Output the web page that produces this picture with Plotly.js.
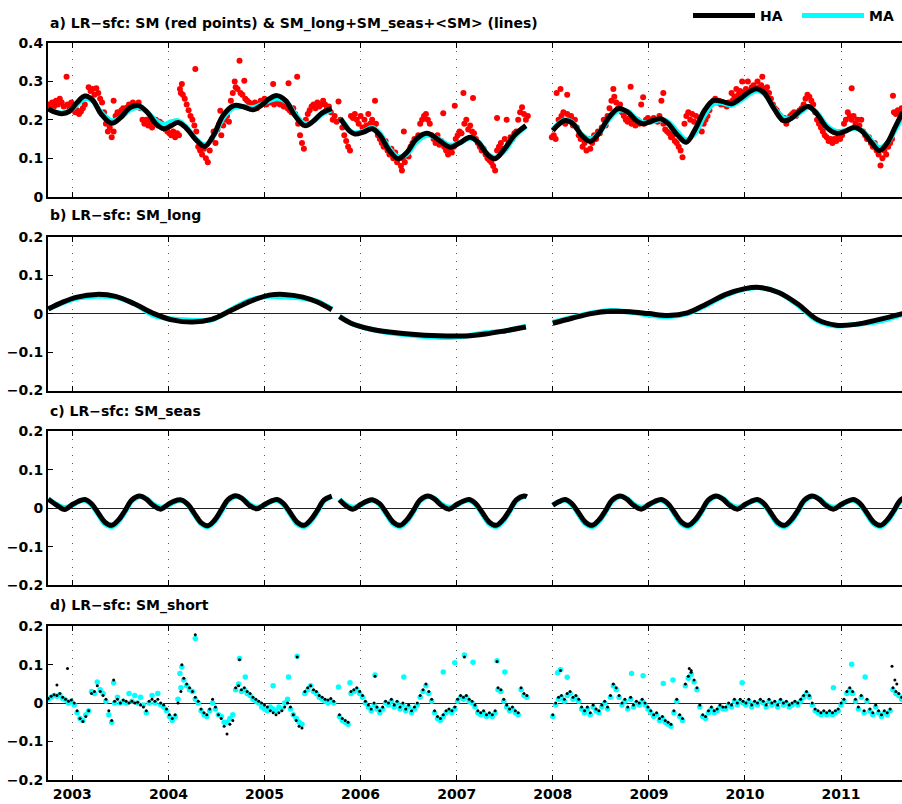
<!DOCTYPE html>
<html><head><meta charset="utf-8">
<script src="https://cdn.plot.ly/plotly-3.0.1.min.js"></script>
<style>html,body{margin:0;padding:0;overflow:hidden;background:#fff}#chart{width:910px;height:804px}</style>
</head><body><div id="chart"></div><script>
// ---------- tick labels ----------
const yearTicks = [2003,2004,2005,2006,2007,2008,2009,2010,2011];
const yearLabels = ['2003','2004','2005','2006','2007','2008','2009','2010','2011'];
const aTicks = [0,0.1,0.2,0.3,0.4];
const aLabels = ['0','0.1','0.2','0.3','0.4'];
const anomTicks = [-0.2,-0.1,0,0.1,0.2];
const anomLabels = ['\u22120.2','\u22120.1','0','0.1','0.2'];
const panelTitles = [
  'a) LR\u2212sfc: SM (red points) &amp; SM_long+SM_seas+&lt;SM&gt; (lines)',
  'b) LR\u2212sfc: SM_long',
  'c) LR\u2212sfc: SM_seas',
  'd) LR\u2212sfc: SM_short'
];
const seriesNames = ['HA','MA'];

// ---------- panel a: SM red points ----------
const redYears = [
2002.73,2002.75,2002.77,2002.79,2002.81,2002.83,2002.85,2002.87,2002.89,2002.91,
2002.94,2002.95,2002.97,2002.99,2003.01,2003.03,2003.05,2003.07,2003.09,2003.11,
2003.13,2003.15,2003.17,2003.19,2003.21,2003.23,2003.25,2003.27,2003.29,2003.31,
2003.33,2003.35,2003.37,2003.39,2003.41,2003.43,2003.43,2003.45,2003.47,2003.49,
2003.51,2003.53,2003.55,2003.57,2003.59,2003.61,2003.63,2003.65,2003.67,2003.69,
2003.71,2003.73,2003.75,2003.77,2003.79,2003.81,2003.83,2003.85,2003.87,2003.89,
2003.91,2003.93,2003.95,2003.97,2003.99,2004.01,2004.03,2004.05,2004.07,2004.09,
2004.11,2004.12,2004.13,2004.14,2004.15,2004.17,2004.19,2004.21,2004.23,2004.25,
2004.27,2004.28,2004.29,2004.31,2004.33,2004.35,2004.37,2004.39,2004.41,2004.43,
2004.45,2004.47,2004.49,2004.51,2004.53,2004.54,2004.55,2004.57,2004.59,2004.61,
2004.63,2004.65,2004.67,2004.69,2004.70,2004.72,2004.74,2004.75,2004.77,2004.79,
2004.80,2004.82,2004.84,2004.86,2004.88,2004.90,2004.92,2004.94,2004.96,2004.98,
2005.00,2005.02,2005.04,2005.06,2005.08,2005.09,2005.10,2005.12,2005.14,2005.16,
2005.18,2005.20,2005.22,2005.24,2005.25,2005.26,2005.28,2005.30,2005.32,2005.34,
2005.35,2005.37,2005.39,2005.41,2005.43,2005.45,2005.47,2005.49,2005.51,2005.53,
2005.55,2005.57,2005.59,2005.61,2005.63,2005.65,2005.67,2005.69,2005.71,2005.73,
2005.75,2005.77,2005.79,2005.81,2005.83,2005.85,2005.87,2005.89,2005.90,2005.92,
2005.94,2005.96,2005.98,2006.00,2006.02,2006.04,2006.06,2006.08,2006.10,2006.12,
2006.14,2006.15,2006.16,2006.18,2006.20,2006.22,2006.24,2006.26,2006.28,2006.30,
2006.32,2006.34,2006.36,2006.38,2006.40,2006.42,2006.43,2006.44,2006.45,2006.46,
2006.48,2006.50,2006.52,2006.54,2006.56,2006.58,2006.60,2006.62,2006.64,2006.66,
2006.68,2006.70,2006.72,2006.74,2006.76,2006.78,2006.80,2006.82,2006.84,2006.86,
2006.87,2006.89,2006.91,2006.93,2006.95,2006.97,2006.98,2006.99,2007.01,2007.03,
2007.05,2007.07,2007.08,2007.10,2007.12,2007.14,2007.16,2007.17,2007.18,2007.20,
2007.22,2007.24,2007.26,2007.28,2007.30,2007.32,2007.34,2007.36,2007.38,2007.40,
2007.42,2007.42,2007.44,2007.46,2007.48,2007.50,2007.52,2007.54,2007.56,2007.58,
2007.60,2007.62,2007.64,2007.66,2007.68,2007.70,2007.72,2007.74,2007.99,2008.01,
2008.03,2008.04,2008.06,2008.08,2008.09,2008.11,2008.13,2008.15,2008.15,2008.17,
2008.19,2008.21,2008.23,2008.25,2008.27,2008.29,2008.31,2008.33,2008.35,2008.37,
2008.39,2008.41,2008.43,2008.45,2008.47,2008.49,2008.51,2008.53,2008.55,2008.57,
2008.59,2008.61,2008.63,2008.64,2008.66,2008.68,2008.70,2008.72,2008.74,2008.76,
2008.78,2008.80,2008.81,2008.82,2008.84,2008.86,2008.88,2008.90,2008.92,2008.94,
2008.95,2008.97,2008.99,2009.01,2009.03,2009.05,2009.07,2009.09,2009.11,2009.13,
2009.15,2009.15,2009.17,2009.19,2009.21,2009.23,2009.25,2009.27,2009.29,2009.31,
2009.33,2009.35,2009.37,2009.39,2009.41,2009.43,2009.45,2009.47,2009.49,2009.51,
2009.53,2009.55,2009.57,2009.59,2009.61,2009.63,2009.65,2009.67,2009.69,2009.71,
2009.73,2009.75,2009.77,2009.79,2009.81,2009.83,2009.85,2009.86,2009.87,2009.89,
2009.91,2009.93,2009.95,2009.97,2009.99,2010.01,2010.03,2010.05,2010.07,2010.09,
2010.11,2010.13,2010.15,2010.17,2010.18,2010.19,2010.21,2010.23,2010.25,2010.27,
2010.29,2010.31,2010.33,2010.35,2010.37,2010.39,2010.41,2010.43,2010.45,2010.47,
2010.49,2010.51,2010.53,2010.55,2010.57,2010.59,2010.61,2010.63,2010.65,2010.67,
2010.69,2010.71,2010.73,2010.75,2010.77,2010.79,2010.81,2010.83,2010.85,2010.87,
2010.89,2010.91,2010.93,2010.95,2010.97,2010.99,2011.01,2011.03,2011.05,2011.07,
2011.09,2011.11,2011.11,2011.13,2011.15,2011.17,2011.19,2011.21,2011.23,2011.25,
2011.27,2011.29,2011.31,2011.33,2011.35,2011.37,2011.39,2011.41,2011.43,2011.45,
2011.47,2011.49,2011.51,2011.53,2011.54,2011.55,2011.57,2011.59,2011.61,2011.63
];
const redSM = [
.235,.24,.228,.245,.235,.25,.24,.255,.245,.235,
.312,.24,.23,.245,.235,.22,.225,.215,.222,.23,
.24,.26,.285,.275,.28,.265,.282,.27,.255,.245,
.22,.19,.17,.18,.155,.25,.17,.21,.22,.215,
.225,.23,.22,.232,.24,.235,.245,.24,.238,.245,
.23,.2,.19,.2,.185,.195,.18,.19,.2,.185,
.195,.19,.18,.175,.17,.165,.16,.17,.155,.165,
.16,.28,.27,.293,.265,.255,.24,.225,.21,.2,
.185,.332,.17,.13,.12,.11,.125,.1,.09,.12,
.15,.17,.14,.175,.19,.224,.16,.185,.2,.21,
.195,.25,.27,.3,.285,.28,.354,.27,.265,.302,
.255,.25,.245,.24,.235,.245,.23,.24,.25,.245,
.255,.24,.25,.245,.255,.293,.24,.25,.245,.24,
.25,.235,.245,.23,.295,.225,.22,.23,.215,.312,
.19,.16,.14,.125,.2,.215,.225,.235,.24,.23,
.245,.235,.24,.25,.24,.23,.235,.22,.2,.21,
.195,.248,.2,.18,.16,.145,.13,.12,.21,.205,
.215,.2,.19,.21,.18,.2,.185,.215,.19,.2,
.18,.25,.19,.16,.15,.14,.13,.145,.12,.11,
.125,.1,.115,.09,.1,.08,.068,.1,.17,.09,
.11,.105,.13,.14,.15,.145,.16,.19,.2,.21,
.215,.2,.19,.16,.15,.14,.16,.135,.145,.217,
.13,.12,.11,.125,.115,.13,.237,.15,.16,.17,
.165,.27,.19,.2,.175,.185,.17,.257,.165,.15,
.14,.13,.12,.125,.11,.1,.095,.09,.08,.068,
.205,.12,.13,.14,.125,.15,.2,.14,.155,.15,
.165,.17,.2,.22,.233,.215,.2,.21,.155,.16,
.15,.27,.2,.28,.21,.22,.19,.265,.215,.2,
.21,.185,.2,.18,.16,.15,.13,.14,.12,.15,
.125,.14,.16,.15,.17,.165,.18,.2,.185,.21,
.23,.25,.28,.26,.245,.23,.24,.22,.21,.2,
.195,.205,.286,.19,.2,.185,.2,.19,.24,.259,
.19,.2,.205,.195,.2,.205,.2,.195,.21,.25,
.27,.19,.175,.17,.165,.155,.16,.145,.14,.13,
.12,.103,.19,.21,.22,.2,.215,.195,.21,.18,
.2,.17,.19,.2,.21,.225,.24,.25,.255,.245,
.25,.24,.245,.24,.235,.245,.24,.27,.25,.26,
.28,.265,.275,.3,.27,.28,.3,.275,.285,.29,
.28,.3,.285,.29,.312,.28,.275,.285,.27,.255,
.24,.23,.225,.215,.21,.2,.205,.19,.2,.21,
.215,.22,.21,.22,.225,.23,.24,.255,.265,.26,
.25,.24,.22,.2,.19,.18,.17,.16,.155,.145,
.15,.14,.15,.145,.155,.15,.16,.19,.2,.22,
.21,.282,.2,.21,.19,.2,.185,.2,.17,.16,
.15,.155,.14,.13,.14,.12,.11,.081,.1,.12,
.11,.13,.14,.15,.263,.22,.215,.225,.22,.23
];

// ---------- panel a: SM_long+SM_seas+<SM> lines ----------
const lineAYears = [
2002.75,2002.82,2002.89,2002.97,2003.05,2003.13,2003.21,2003.30,2003.41,2003.50,2003.60,2003.69,2003.78,2003.87,2003.95,
2004.03,2004.10,2004.18,2004.28,2004.38,2004.47,2004.57,2004.68,2004.78,2004.88,2004.97,2005.05,2005.13,2005.22,2005.32,
2005.42,2005.50,2005.60,2005.70,
2005.745,
2005.79,2005.84,2005.89,2005.94,2006.03,2006.12,2006.20,2006.30,2006.39,2006.48,2006.58,2006.69,2006.80,2006.93,2007.03,
2007.14,2007.23,2007.32,2007.40,2007.50,2007.60,2007.72,
2007.86,
2008.00,2008.06,2008.13,2008.21,2008.30,2008.39,2008.48,2008.58,2008.68,2008.78,2008.86,2008.94,2009.03,2009.12,2009.20,
2009.30,2009.39,2009.48,2009.58,2009.67,2009.76,2009.86,2009.95,2010.04,2010.12,2010.20,2010.30,2010.40,2010.49,2010.58,
2010.66,2010.75,2010.85,2010.95,2011.04,2011.14,2011.22,2011.32,2011.40,2011.48,2011.56,2011.64
];
const haA = [
0.229,0.220,0.216,0.222,0.245,0.262,0.252,0.215,0.191,0.205,0.232,0.237,0.220,0.190,0.177,
0.185,0.193,0.180,0.150,0.131,0.160,0.212,0.237,0.234,0.226,0.238,0.255,0.263,0.250,0.210,
0.185,0.195,0.218,0.229,
null,
0.203,0.185,0.170,0.163,0.168,0.177,0.160,0.120,0.099,0.115,0.150,0.165,0.150,0.129,0.140,
0.155,0.140,0.110,0.099,0.125,0.160,0.185,
null,
0.172,0.188,0.198,0.190,0.160,0.144,0.165,0.205,0.229,0.220,0.200,0.190,0.197,0.203,0.190,
0.160,0.142,0.175,0.225,0.250,0.248,0.242,0.255,0.272,0.281,0.270,0.230,0.198,0.205,0.225,
0.235,0.215,0.180,0.165,0.170,0.181,0.170,0.140,0.120,0.140,0.180,0.220
];
const maA = [
0.228,0.221,0.218,0.223,0.240,0.255,0.250,0.220,0.198,0.205,0.226,0.232,0.220,0.198,0.188,
0.195,0.198,0.183,0.152,0.135,0.158,0.205,0.232,0.234,0.232,0.240,0.250,0.255,0.248,0.215,
0.190,0.195,0.215,0.226,
null,
0.203,0.188,0.172,0.166,0.170,0.180,0.165,0.125,0.104,0.110,0.142,0.160,0.152,0.134,0.140,
0.152,0.142,0.112,0.102,0.120,0.155,0.183,
null,
0.175,0.190,0.200,0.192,0.162,0.150,0.165,0.200,0.224,0.222,0.205,0.193,0.195,0.200,0.195,
0.168,0.148,0.165,0.212,0.242,0.244,0.238,0.250,0.266,0.276,0.268,0.232,0.205,0.205,0.220,
0.232,0.218,0.185,0.170,0.172,0.178,0.172,0.145,0.128,0.140,0.172,0.210
];

// ---------- panel b: SM_long ----------
const lineBYears = [
2002.75,2002.90,2003.05,2003.25,2003.45,2003.65,2003.85,2004.05,2004.25,2004.45,2004.65,2004.85,2005.05,2005.20,2005.40,2005.55,2005.70,
2005.74,
2005.78,2005.90,2006.10,2006.30,2006.60,2006.90,2007.10,2007.30,2007.50,2007.72,
2007.86,
2008.00,2008.20,2008.40,2008.60,2008.80,2009.00,2009.20,2009.40,2009.60,2009.80,2010.00,2010.15,2010.35,2010.55,2010.75,2010.95,2011.15,2011.40,2011.64
];
const haB = [
0.012,0.030,0.043,0.050,0.045,0.025,0.000,-0.017,-0.022,-0.015,0.008,0.032,0.048,0.050,0.043,0.030,0.010,
null,
-0.008,-0.025,-0.040,-0.048,-0.055,-0.058,-0.058,-0.053,-0.045,-0.035,
null,
-0.025,-0.012,0.000,0.006,0.005,0.000,-0.005,0.002,0.025,0.050,0.065,0.068,0.055,0.025,-0.015,-0.030,-0.028,-0.015,0.000
];
const maB = [
0.012,0.028,0.040,0.045,0.043,0.025,-0.005,-0.014,-0.017,-0.016,0.010,0.035,0.045,0.043,0.040,0.032,0.012,
null,
-0.006,-0.025,-0.040,-0.050,-0.058,-0.062,-0.058,-0.050,-0.045,-0.033,
null,
-0.022,-0.010,0.002,0.008,0.004,-0.004,-0.008,0.000,0.022,0.048,0.064,0.068,0.055,0.022,-0.018,-0.032,-0.028,-0.020,-0.002
];

// ---------- panel c: SM_seas ----------
const lineCYears = [
2002.75,2002.84,2002.92,
2003.00,2003.06,2003.13,2003.20,2003.27,2003.34,2003.41,2003.48,2003.55,2003.62,2003.70,2003.77,2003.84,2003.92,
2004.00,2004.06,2004.13,2004.20,2004.27,2004.34,2004.41,2004.48,2004.55,2004.62,2004.70,2004.77,2004.84,2004.92,
2005.00,2005.06,2005.13,2005.20,2005.27,2005.34,2005.41,2005.48,2005.55,2005.62,2005.70,
2005.74,
2005.78,2005.84,2005.92,
2006.00,2006.06,2006.13,2006.20,2006.27,2006.34,2006.41,2006.48,2006.55,2006.62,2006.70,2006.77,2006.84,2006.92,
2007.00,2007.06,2007.13,2007.20,2007.27,2007.34,2007.41,2007.48,2007.55,2007.62,2007.70,2007.73,
2007.86,
2008.00,2008.06,2008.13,2008.20,2008.27,2008.34,2008.41,2008.48,2008.55,2008.62,2008.70,2008.77,2008.84,2008.92,
2009.00,2009.06,2009.13,2009.20,2009.27,2009.34,2009.41,2009.48,2009.55,2009.62,2009.70,2009.77,2009.84,2009.92,
2010.00,2010.06,2010.13,2010.20,2010.27,2010.34,2010.41,2010.48,2010.55,2010.62,2010.70,2010.77,2010.84,2010.92,
2011.00,2011.06,2011.13,2011.20,2011.27,2011.34,2011.41,2011.48,2011.55,2011.62,2011.70
];
const haC = [
0.024,0.008,-0.003,
0.010,0.018,0.023,0.012,-0.012,-0.036,-0.044,-0.030,-0.005,0.022,0.032,0.024,0.008,-0.002,
0.011,0.019,0.022,0.011,-0.013,-0.037,-0.045,-0.031,-0.004,0.023,0.033,0.025,0.008,-0.001,
0.010,0.018,0.023,0.012,-0.012,-0.036,-0.044,-0.030,-0.005,0.022,0.032,
null,
0.022,0.008,-0.002,
0.010,0.018,0.022,0.012,-0.012,-0.036,-0.044,-0.030,-0.005,0.022,0.032,0.024,0.008,-0.002,
0.010,0.018,0.023,0.012,-0.012,-0.036,-0.044,-0.030,-0.005,0.022,0.032,0.030,
null,
0.008,0.017,0.023,0.012,-0.012,-0.036,-0.044,-0.030,-0.005,0.022,0.032,0.024,0.008,-0.002,
0.010,0.018,0.023,0.012,-0.012,-0.036,-0.044,-0.030,-0.005,0.022,0.032,0.024,0.008,-0.002,
0.010,0.018,0.023,0.012,-0.012,-0.036,-0.044,-0.030,-0.005,0.022,0.032,0.024,0.008,-0.002,
0.010,0.018,0.023,0.012,-0.012,-0.036,-0.044,-0.030,-0.005,0.022,0.032
];
const maC = [
0.025,0.010,0.002,
0.008,0.017,0.021,0.009,-0.016,-0.041,-0.048,-0.034,-0.009,0.019,0.031,0.026,0.011,0.003,
0.008,0.016,0.021,0.010,-0.016,-0.040,-0.048,-0.034,-0.009,0.019,0.031,0.026,0.011,0.003,
0.008,0.017,0.021,0.009,-0.016,-0.041,-0.048,-0.034,-0.009,0.019,0.031,
null,
0.024,0.011,0.003,
0.008,0.017,0.021,0.009,-0.016,-0.041,-0.048,-0.034,-0.009,0.019,0.031,0.026,0.011,0.003,
0.008,0.017,0.021,0.009,-0.016,-0.041,-0.048,-0.034,-0.009,0.019,0.031,0.030,
null,
0.008,0.016,0.021,0.009,-0.016,-0.041,-0.048,-0.034,-0.009,0.019,0.031,0.026,0.011,0.003,
0.008,0.017,0.021,0.009,-0.016,-0.041,-0.048,-0.034,-0.009,0.019,0.031,0.026,0.011,0.003,
0.008,0.017,0.021,0.009,-0.016,-0.041,-0.048,-0.034,-0.009,0.019,0.031,0.026,0.011,0.003,
0.008,0.017,0.021,0.009,-0.016,-0.041,-0.048,-0.034,-0.009,0.019,0.031
];

// ---------- panel d: SM_short ----------
const shortYears = [
2002.75,2002.78,2002.81,2002.84,2002.87,2002.90,2002.93,2002.96,2002.99,2003.02,
2003.05,2003.08,2003.11,2003.14,2003.17,2003.20,2003.23,2003.26,2003.29,2003.32,
2003.35,2003.38,2003.41,2003.44,2003.47,2003.50,2003.53,2003.56,2003.59,2003.62,
2003.65,2003.68,2003.71,2003.74,2003.77,2003.80,2003.83,2003.86,2003.89,2003.92,
2003.95,2003.98,2004.01,2004.04,2004.07,2004.10,2004.13,2004.16,2004.19,2004.22,
2004.25,2004.28,2004.31,2004.34,2004.37,2004.40,2004.43,2004.46,2004.49,2004.52,
2004.55,2004.58,2004.61,2004.64,2004.67,2004.70,2004.73,2004.76,2004.79,2004.82,
2004.85,2004.88,2004.91,2004.94,2004.97,2005.00,2005.03,2005.06,2005.09,2005.12,
2005.15,2005.18,2005.21,2005.24,2005.27,2005.30,2005.33,2005.36,2005.39,2005.42,
2005.45,2005.48,2005.51,2005.54,2005.57,2005.60,2005.63,2005.66,2005.69,2005.72,
2005.78,2005.81,2005.84,2005.87,2005.90,2005.93,2005.96,2005.99,2006.02,2006.05,
2006.08,2006.11,2006.14,2006.17,2006.20,2006.23,2006.26,2006.29,2006.32,2006.35,
2006.38,2006.41,2006.44,2006.47,2006.50,2006.53,2006.56,2006.59,2006.62,2006.65,
2006.68,2006.71,2006.74,2006.77,2006.80,2006.83,2006.86,2006.89,2006.92,2006.95,
2006.98,2007.01,2007.04,2007.07,2007.10,2007.13,2007.16,2007.19,2007.22,2007.25,
2007.28,2007.31,2007.34,2007.37,2007.40,2007.43,2007.46,2007.49,2007.52,2007.55,
2007.58,2007.61,2007.64,2007.67,2007.70,2007.73,
2008.00,2008.03,2008.06,2008.09,2008.12,2008.15,2008.18,2008.21,2008.24,2008.27,
2008.30,2008.33,2008.36,2008.39,2008.42,2008.45,2008.48,2008.51,2008.54,2008.57,
2008.60,2008.63,2008.66,2008.69,2008.72,2008.75,2008.78,2008.81,2008.84,2008.87,
2008.90,2008.93,2008.96,2008.99,2009.02,2009.05,2009.08,2009.11,2009.14,2009.17,
2009.20,2009.23,2009.26,2009.29,2009.32,2009.35,2009.38,2009.41,2009.44,2009.47,
2009.50,2009.53,2009.56,2009.59,2009.62,2009.65,2009.68,2009.71,2009.74,2009.77,
2009.80,2009.83,2009.86,2009.89,2009.92,2009.95,2009.98,2010.01,2010.04,2010.07,
2010.10,2010.13,2010.16,2010.19,2010.22,2010.25,2010.28,2010.31,2010.34,2010.37,
2010.40,2010.43,2010.46,2010.49,2010.52,2010.55,2010.58,2010.61,2010.64,2010.67,
2010.70,2010.73,2010.76,2010.79,2010.82,2010.85,2010.88,2010.91,2010.94,2010.97,
2011.00,2011.03,2011.06,2011.09,2011.12,2011.15,2011.18,2011.21,2011.24,2011.27,
2011.30,2011.33,2011.36,2011.39,2011.42,2011.45,2011.48,2011.51,2011.54,2011.57,
2011.60,2011.63
];
const haShort = [
0.012,0.018,0.022,0.020,0.025,0.015,0.010,0.005,0.008,0.000,
-0.020,-0.040,-0.048,-0.035,-0.020,0.025,0.030,0.045,0.030,0.020,
0.010,-0.020,-0.045,0.005,0.010,0.000,0.008,0.005,0.000,0.005,
0.000,0.002,-0.005,-0.010,-0.020,0.005,0.010,0.005,0.010,0.000,
-0.005,-0.015,-0.030,-0.040,-0.030,0.000,0.030,0.065,0.050,0.040,
0.030,0.015,0.005,-0.015,-0.025,-0.030,-0.015,0.010,-0.010,-0.030,
-0.040,-0.060,-0.080,-0.055,-0.045,0.040,0.045,0.035,0.040,0.030,
0.025,0.015,0.010,0.005,0.000,-0.005,-0.010,-0.020,-0.025,-0.030,
-0.025,-0.020,-0.010,0.000,-0.010,-0.030,-0.045,-0.060,-0.065,0.030,
0.040,0.045,0.035,0.030,0.020,0.015,0.010,0.008,0.012,0.005,
-0.030,-0.040,-0.045,-0.050,0.030,0.035,0.040,0.030,0.020,0.005,
-0.005,-0.015,0.000,-0.010,-0.020,-0.010,0.005,0.000,0.010,-0.005,
0.005,-0.010,0.000,-0.015,-0.005,-0.020,-0.010,0.000,0.020,0.035,
0.050,0.030,0.010,-0.020,-0.035,-0.040,-0.030,-0.020,-0.015,-0.020,
-0.010,0.010,0.020,0.015,0.020,0.010,0.005,-0.005,-0.020,-0.025,
-0.020,-0.030,-0.025,-0.030,-0.020,0.040,0.035,0.010,-0.005,-0.015,
-0.010,-0.020,-0.025,0.040,0.025,0.020,
-0.030,0.000,0.015,0.020,0.010,0.025,0.030,0.015,0.020,0.010,
-0.010,-0.020,-0.010,-0.025,-0.005,-0.015,-0.020,-0.005,0.005,-0.010,
0.020,0.050,0.040,0.020,0.000,0.010,-0.010,0.015,-0.005,0.005,
0.000,0.010,0.000,-0.010,-0.020,-0.030,-0.025,-0.040,-0.035,-0.045,
-0.050,-0.055,-0.020,0.010,-0.030,-0.040,0.050,0.070,0.080,0.060,
0.040,-0.005,-0.030,-0.035,-0.020,-0.010,-0.020,-0.015,-0.005,-0.010,
-0.010,0.000,-0.005,0.010,0.000,0.010,0.005,0.000,0.010,-0.005,
0.005,0.000,0.010,0.005,-0.005,0.010,0.000,0.005,-0.005,0.010,
0.000,0.005,-0.005,0.000,0.005,0.000,0.010,0.020,0.030,0.020,
0.000,-0.015,-0.020,-0.025,-0.020,-0.025,-0.020,-0.025,-0.020,-0.015,
0.000,0.010,0.030,0.040,0.030,0.010,-0.010,0.020,-0.020,0.010,
-0.015,-0.025,-0.005,-0.020,-0.030,-0.020,-0.025,-0.015,0.040,0.030,
0.025,0.015
];
const maShort = [
0.010,0.015,0.020,0.018,0.022,0.012,0.008,0.000,0.005,-0.005,
-0.025,-0.040,-0.045,-0.030,-0.020,0.030,0.025,0.055,0.035,0.025,
0.005,-0.030,-0.050,0.000,0.015,0.000,0.005,0.000,0.025,0.005,
0.020,0.000,0.015,-0.005,-0.025,0.000,0.020,0.000,0.025,-0.005,
-0.010,-0.020,-0.035,-0.045,-0.035,0.010,0.040,0.060,0.045,0.035,
0.030,0.010,0.000,-0.020,-0.030,-0.035,-0.020,0.000,-0.015,-0.030,
-0.035,-0.050,-0.050,-0.040,-0.030,0.035,0.050,0.030,0.035,0.025,
0.020,0.010,0.005,0.000,-0.010,-0.015,-0.020,-0.010,-0.015,-0.020,
-0.010,-0.015,0.000,0.010,-0.015,-0.030,-0.040,-0.050,-0.055,0.025,
0.035,0.045,0.030,0.025,0.015,0.010,0.005,0.000,0.005,0.000,
-0.035,-0.045,-0.050,-0.055,0.025,0.030,0.035,0.025,0.015,0.000,
-0.010,-0.020,-0.005,-0.015,-0.025,-0.015,0.000,-0.005,0.005,-0.010,
0.000,-0.015,-0.005,-0.020,-0.010,-0.025,-0.015,-0.005,0.015,0.030,
0.045,0.025,0.005,-0.025,-0.040,-0.045,-0.035,-0.025,-0.020,-0.025,
-0.015,0.005,0.015,0.010,0.015,0.005,0.000,-0.010,-0.025,-0.030,
-0.025,-0.035,-0.030,-0.035,-0.025,0.035,0.030,0.005,-0.010,-0.020,
-0.015,-0.025,-0.030,0.035,0.020,0.015,
-0.035,-0.005,0.010,0.015,0.005,0.020,0.025,0.010,0.015,0.005,
-0.015,-0.025,-0.015,-0.030,-0.010,-0.020,-0.025,-0.010,0.000,-0.015,
0.015,0.045,0.035,0.015,-0.005,0.005,-0.015,0.010,-0.010,0.000,
-0.005,0.005,-0.005,-0.015,-0.025,-0.035,-0.030,-0.045,-0.040,-0.050,
-0.055,-0.060,-0.025,0.005,-0.035,-0.045,0.045,0.065,0.075,0.055,
0.035,-0.010,-0.035,-0.040,-0.025,-0.015,-0.025,-0.020,-0.010,-0.015,
-0.015,-0.005,-0.010,0.005,-0.005,0.005,0.000,-0.005,0.005,-0.010,
0.000,-0.005,0.005,0.000,-0.010,0.005,-0.005,0.000,-0.010,0.005,
-0.005,0.000,-0.010,-0.005,0.000,-0.005,0.005,0.015,0.025,0.015,
-0.005,-0.020,-0.025,-0.030,-0.025,-0.030,-0.025,-0.030,-0.025,-0.020,
-0.005,0.005,0.025,0.035,0.025,0.005,-0.015,0.015,-0.025,0.005,
-0.020,-0.030,-0.010,-0.025,-0.035,-0.025,-0.030,-0.020,0.035,0.025,
0.020,0.010
];
const haOutYears = [2002.84,2002.95,2003.43,2004.14,2004.28,2004.74,2005.34,2006.15,2007.08,2007.42,2008.08,2009.42,2009.44,2011.53,2011.56,2011.58];
const haOutVals  = [0.047,0.090,0.060,0.100,0.178,0.113,0.120,0.070,0.120,0.108,0.085,0.090,0.085,0.096,0.060,0.050];
const maOutYears = [2003.43,2004.12,2004.14,2004.28,2004.74,2004.80,2005.09,2005.25,2005.34,2005.77,2005.89,2006.15,2006.45,2006.86,2006.98,
  2007.08,2007.17,2007.42,2007.50,2008.05,2008.08,2008.15,2008.82,2008.94,2009.15,2009.25,2009.97,2010.92,2011.11,2011.25];
const maOutVals  = [0.053,0.077,0.094,0.168,0.116,0.068,0.045,0.068,0.122,0.042,0.053,0.073,0.068,0.081,0.105,
  0.125,0.106,0.110,0.081,0.079,0.087,0.067,0.077,0.071,0.051,0.060,0.053,0.040,0.101,0.068];

// ---------- layout geometry ----------
const W = 910, H = 804, L = 48;
const XR = [2002.7471, 2011.7171];
function dom(top, bottom){ return [1 - bottom/H, 1 - top/H]; }
const FONT = {family:'DejaVu Sans, sans-serif', size:14, color:'#000', weight:'bold'};
function mkX(anchor, showLabels){
  return {anchor:anchor, range:XR, tickvals:yearTicks, ticktext:yearLabels, showticklabels:showLabels,
    ticks:'inside', ticklen:5, tickwidth:1, tickcolor:'#000', showline:true, linecolor:'#000', linewidth:2,
    mirror:'ticks', showgrid:true, gridcolor:'#555', gridwidth:1, griddash:'1px,7px', zeroline:false,
    tickfont:FONT, automargin:false, fixedrange:true};
}
function mkY(anchor, domain, range, tv, tt, zl){
  return {anchor:anchor, domain:domain, range:range, tickvals:tv, ticktext:tt, ticks:'inside', ticklen:5,
    tickwidth:1, tickcolor:'#000', showline:true, linecolor:'#000', linewidth:2, mirror:'ticks',
    showgrid:false, zeroline:zl, zerolinecolor:'#222', zerolinewidth:1, tickfont:FONT, automargin:false, fixedrange:true};
}
const RED = '#ff0000', CYAN = '#00ffff', BLACK = '#000000';
const traces = [
  {x:redYears, y:redSM, type:'scatter', mode:'markers', marker:{color:RED, size:6}, showlegend:false, xaxis:'x', yaxis:'y'},
  {x:lineAYears, y:maA, type:'scatter', mode:'lines', name:seriesNames[1], legendrank:2, line:{color:CYAN, width:5, shape:'spline'}, connectgaps:false, xaxis:'x', yaxis:'y'},
  {x:lineAYears, y:haA, type:'scatter', mode:'lines', name:seriesNames[0], legendrank:1, line:{color:BLACK, width:5, shape:'spline'}, connectgaps:false, xaxis:'x', yaxis:'y'},
  {x:lineBYears, y:maB, type:'scatter', mode:'lines', showlegend:false, line:{color:CYAN, width:5, shape:'spline'}, xaxis:'x2', yaxis:'y2'},
  {x:lineBYears, y:haB, type:'scatter', mode:'lines', showlegend:false, line:{color:BLACK, width:5, shape:'spline'}, xaxis:'x2', yaxis:'y2'},
  {x:lineCYears, y:maC, type:'scatter', mode:'lines', showlegend:false, line:{color:CYAN, width:5, shape:'spline'}, xaxis:'x3', yaxis:'y3'},
  {x:lineCYears, y:haC, type:'scatter', mode:'lines', showlegend:false, line:{color:BLACK, width:5, shape:'spline'}, xaxis:'x3', yaxis:'y3'},
  {x:shortYears, y:maShort, type:'scatter', mode:'markers', showlegend:false, marker:{color:CYAN, size:5.5}, xaxis:'x4', yaxis:'y4'},
  {x:maOutYears, y:maOutVals, type:'scatter', mode:'markers', showlegend:false, marker:{color:CYAN, size:5.5}, xaxis:'x4', yaxis:'y4'},
  {x:shortYears, y:haShort, type:'scatter', mode:'markers', showlegend:false, marker:{color:BLACK, size:3}, xaxis:'x4', yaxis:'y4'},
  {x:haOutYears, y:haOutVals, type:'scatter', mode:'markers', showlegend:false, marker:{color:BLACK, size:3}, xaxis:'x4', yaxis:'y4'}
];
const titleY = [23, 215, 411, 605];
const annotations = panelTitles.map((t,i)=>({text:t, xref:'paper', yref:'paper', x:(48-L)/(W-L), y:1-titleY[i]/H,
  xanchor:'left', yanchor:'middle', showarrow:false, font:{family:'DejaVu Sans, sans-serif', size:14, color:'#000', weight:'bold'}}));
const layout = {
  width:W, height:H, margin:{l:L, r:0, t:0, b:0}, paper_bgcolor:'#fff', plot_bgcolor:'#fff',
  showlegend:true,
  legend:{orientation:'h', x:(688-L)/(W-L), y:1-15/H, xanchor:'left', yanchor:'middle', font:FONT,
    itemwidth:62, entrywidth:32, entrywidthmode:'pixels', bgcolor:'rgba(0,0,0,0)', traceorder:'normal'},
  xaxis:mkX('y', false), xaxis2:mkX('y2', false), xaxis3:mkX('y3', false), xaxis4:mkX('y4', true),
  yaxis:mkY('x', dom(42,196), [0,0.4], aTicks, aLabels, false),
  yaxis2:mkY('x2', dom(236,390), [-0.2,0.2], anomTicks, anomLabels, true),
  yaxis3:mkY('x3', dom(431,585), [-0.2,0.2], anomTicks, anomLabels, true),
  yaxis4:mkY('x4', dom(626,780), [-0.2,0.2], anomTicks, anomLabels, true),
  annotations:annotations
};
Plotly.newPlot('chart', traces, layout, {staticPlot:true, displayModeBar:false});
</script></body></html>
